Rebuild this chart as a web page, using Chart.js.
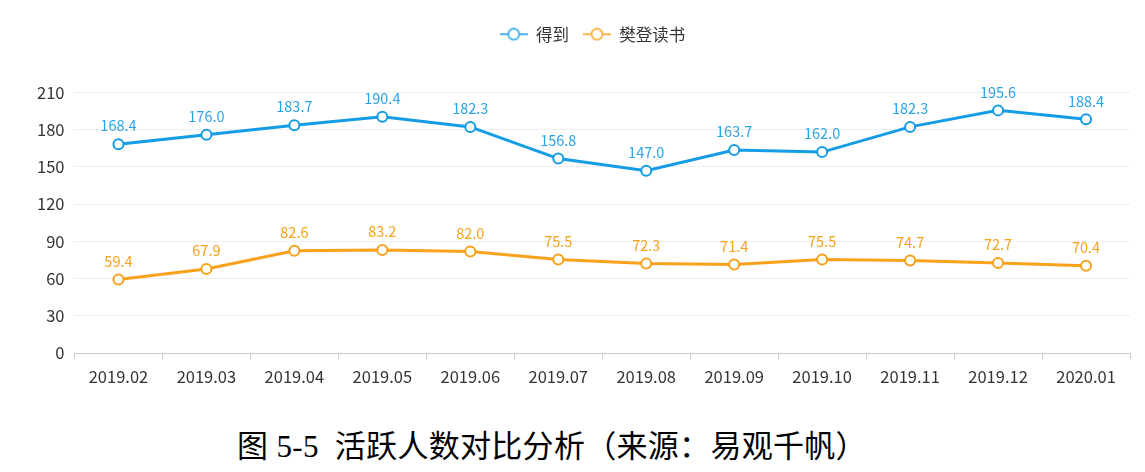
<!DOCTYPE html>
<html>
<head>
<meta charset="utf-8">
<script src="https://cdn.jsdelivr.net/npm/chart.js@4.4.1/dist/chart.umd.min.js"></script>
<style>
  html, body { margin:0; padding:0; background:#fff; }
  #wrap { position:absolute; left:0; top:0; width:1145px; height:399px; }
  #caption {
    position:absolute; left:0; width:1104px; top:421px; text-align:center;
    font-family:'Liberation Serif','Noto Sans CJK SC',serif; font-size:31px; color:#000;
    letter-spacing:0.3px;
  }
</style>
</head>
<body>
<div id="wrap"><canvas id="chart"></canvas></div>
<div id="caption">图 5-5&nbsp; 活跃人数对比分析（来源：易观千帆）</div>
<script>
// categories and series
const MONTHS = ['2019.02','2019.03','2019.04','2019.05','2019.06','2019.07','2019.08','2019.09','2019.10','2019.11','2019.12','2020.01'];
const DEDAO  = [168.4, 176.0, 183.7, 190.4, 182.3, 156.8, 147.0, 163.7, 162.0, 182.3, 195.6, 188.4];
const FANDENG = [59.4, 67.9, 82.6, 83.2, 82.0, 75.5, 72.3, 71.4, 75.5, 74.7, 72.7, 70.4];
const Y_TICKS = [0, 30, 60, 90, 120, 150, 180, 210];

const BLUE   = '#149ce6';
const ORANGE = '#f9a11b';
const FONT   = "'Noto Sans CJK SC', 'Open Sans', sans-serif";

// line-circle-line swatch for the legend
function legendIcon(color) {
  const c = document.createElement('canvas');
  c.width = 28; c.height = 14;
  const g = c.getContext('2d');
  g.strokeStyle = color; g.lineWidth = 2;
  g.beginPath(); g.moveTo(0, 7); g.lineTo(28, 7); g.stroke();
  g.fillStyle = '#fff';
  g.beginPath(); g.arc(14, 7, 5.5, 0, Math.PI * 2); g.fill(); g.stroke();
  return c;
}

// value labels above each point
const valueLabels = {
  id: 'valueLabels',
  afterDatasetsDraw(chart) {
    const ctx = chart.ctx;
    ctx.save();
    ctx.font = '14.5px ' + FONT;
    ctx.textAlign = 'center';
    ctx.textBaseline = 'bottom';
    chart.data.datasets.forEach((ds, i) => {
      ctx.fillStyle = ds.labelColor;
      chart.getDatasetMeta(i).data.forEach((pt, j) => {
        ctx.fillText(ds.data[j].toFixed(1), pt.x, pt.y - 11);
      });
    });
    ctx.restore();
  }
};

// more room under the legend, and nudge it right a bit
const legendSpace = {
  id: 'legendSpace',
  beforeInit(chart) {
    const fit = chart.legend.fit;
    chart.legend.fit = function () {
      fit.call(this);
      this.height += 40;
    };
  },
  afterLayout(chart) {
    chart.legend.left += 14;
    chart.legend.right += 14;
  }
};

new Chart(document.getElementById('chart'), {
  type: 'line',
  data: {
    labels: MONTHS,
    datasets: [
      { label: '得到', data: DEDAO, borderColor: BLUE, backgroundColor: '#fff', labelColor: '#2aa3e6',
        borderWidth: 3, pointRadius: 5, pointBorderWidth: 2, pointBackgroundColor: '#fff', pointBorderColor: BLUE,
        tension: 0, icon: legendIcon('#4db3ec') },
      { label: '樊登读书', data: FANDENG, borderColor: ORANGE, backgroundColor: '#fff', labelColor: '#f9a11b',
        borderWidth: 3, pointRadius: 5, pointBorderWidth: 2, pointBackgroundColor: '#fff', pointBorderColor: ORANGE,
        tension: 0, icon: legendIcon('#fbb64a') }
    ]
  },
  options: {
    responsive: true,
    maintainAspectRatio: false,
    animation: false,
    layout: { padding: { left: 27, right: 15, top: 12, bottom: 4 } },
    plugins: {
      tooltip: { enabled: false },
      legend: {
        position: 'top',
        labels: {
          color: '#333',
          font: { family: FONT, size: 16.5 },
          usePointStyle: true,
          pointStyleWidth: 28,
          padding: 14,
          generateLabels: (chart) => chart.data.datasets.map((ds, i) => ({
            text: ds.label, pointStyle: ds.icon, fontColor: '#333',
            hidden: false, datasetIndex: i, lineWidth: 0
          }))
        }
      }
    },
    scales: {
      x: {
        offset: true,
        grid: { display: true, offset: true, drawOnChartArea: false, drawTicks: true, tickLength: 6, color: '#ccc' },
        border: { display: true, color: '#ccc' },
        ticks: { color: '#333', font: { family: FONT, size: 16.5 }, padding: 8, maxRotation: 0 }
      },
      y: {
        min: 0, max: 210,
        afterBuildTicks: (scale) => { scale.ticks = Y_TICKS.map(v => ({ value: v })); },
        grid: { color: '#eeeeee', drawTicks: false },
        border: { display: false },
        ticks: { color: '#333', font: { family: FONT, size: 16.5 }, padding: 10 }
      }
    }
  },
  plugins: [valueLabels, legendSpace]
});
</script>
</body>
</html>
